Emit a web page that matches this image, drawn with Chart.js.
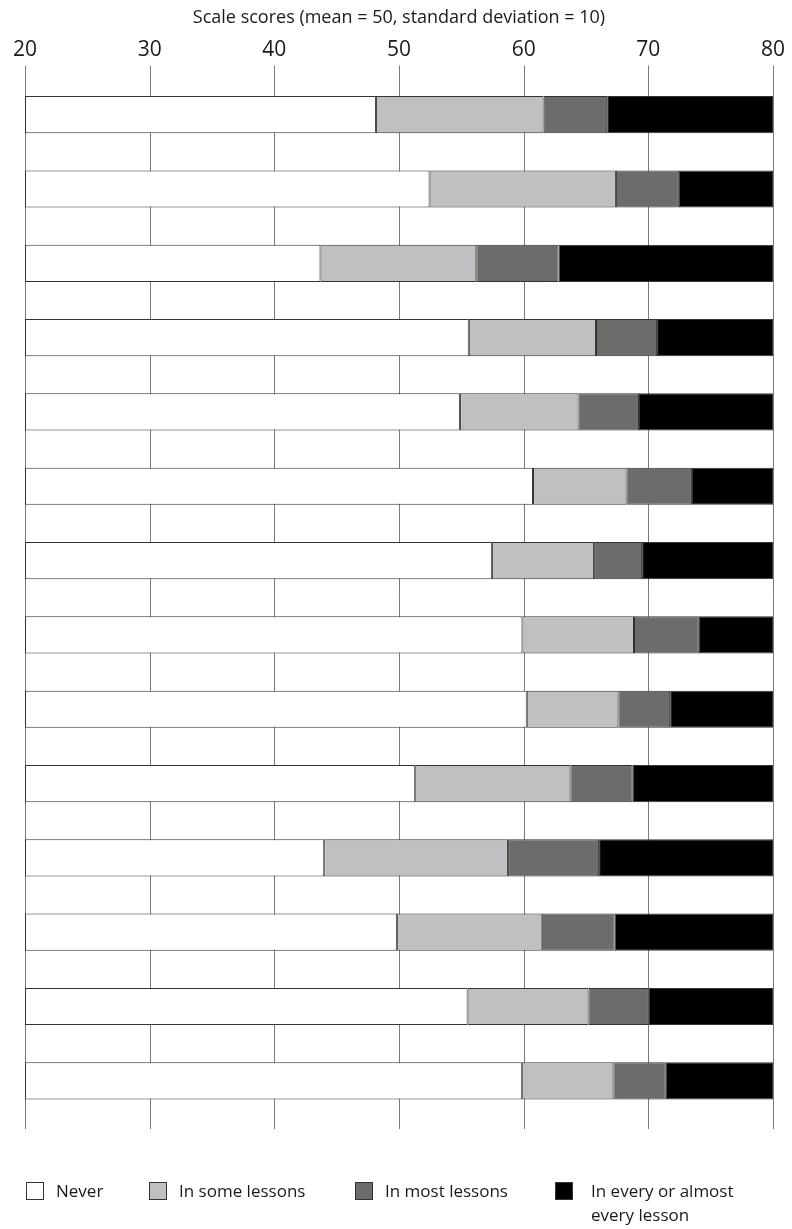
<!DOCTYPE html>
<html>
<head>
<meta charset="utf-8">
<script src="https://cdn.jsdelivr.net/npm/chart.js@4/dist/chart.umd.min.js"></script>
<style>
  html, body { margin: 0; padding: 0; background: #fff; }
  #wrap { position: relative; width: 792px; height: 1229px; }
  #chart { position: absolute; left: 0; top: 0; }
  .legend-item { position: absolute; top: 1182px; font-family: 'Open Sans', sans-serif; font-size: 17px; line-height: 24px; color: #1a1a1a; }
  .legend-box { position: absolute; top: 0; width: 18px; height: 18px; border: 1px solid #333; box-sizing: border-box; }
  .legend-text { position: absolute; top: -3px; white-space: nowrap; }
</style>
</head>
<body>
<div id="wrap">
  <canvas id="chart" width="792" height="1229"></canvas>
  <div id="legend"></div>
</div>
<script>
(function () {
  'use strict';

  // ── 資料 ──────────────────────────────────────────────
  const ITEMS = ['1', '2', '3', '4', '5', '6', '7', '8', '9', '10', '11', '12', '13', '14'];
  const SCALE_MIN = 20;
  const SCALE_MAX = 80;
  const X_TICKS = [20, 30, 40, 50, 60, 70, 80];

  // each band ends at these scale scores
  const neverEnd = [48.15, 52.45, 43.7, 55.6, 54.9, 60.75, 57.45, 59.9, 60.25, 51.3, 44.0, 49.85, 55.5, 59.85];
  const someEnd  = [61.6, 67.4, 56.2, 65.8, 64.4, 68.25, 65.65, 68.85, 67.6, 63.75, 58.75, 61.45, 65.2, 67.2];
  const mostEnd  = [66.7, 72.45, 62.8, 70.7, 69.25, 73.5, 69.5, 74.05, 71.75, 68.75, 66.05, 67.3, 70.0, 71.4];

  const SERIES = ['Never', 'In some lessons', 'In most lessons', 'In every or almost every lesson'];
  const LEGEND_TEXT = ['Never', 'In some lessons', 'In most lessons', 'In every or almost<br>every lesson'];
  const COLORS = ['#ffffff', '#bfc0c2', '#6b6d6b', '#000000'];
  const LEGEND_X = [26, 149, 355, 555];
  const AXIS_TITLE = 'Scale scores (mean = 50, standard deviation = 10)';

  // ── 區段 ──────────────────────────────────────────────
  const starts = [ITEMS.map(() => SCALE_MIN), neverEnd, someEnd, mostEnd];
  const ends = [neverEnd, someEnd, mostEnd, ITEMS.map(() => SCALE_MAX)];

  const datasets = SERIES.map((name, s) => ({
    label: name,
    data: ITEMS.map((_, i) => [starts[s][i], ends[s][i]]),
    backgroundColor: COLORS[s],
    borderColor: '#333333',
    borderWidth: 1,
    borderSkipped: false,
    grouped: false,
    barPercentage: 1,
    categoryPercentage: 0.5,
  }));

  // gridlines drawn behind bars, extending past the plot area
  const gridPlugin = {
    id: 'gridLines',
    beforeDatasetsDraw(chart) {
      const { ctx, chartArea, scales } = chart;
      ctx.save();
      ctx.strokeStyle = '#7a7a7a';
      ctx.lineWidth = 1;
      X_TICKS.forEach(v => {
        const x = Math.round(scales.x.getPixelForValue(v)) + 0.5;
        ctx.beginPath();
        ctx.moveTo(x, chartArea.top - 12);
        ctx.lineTo(x, chartArea.bottom + 11);
        ctx.stroke();
      });
      ctx.restore();
    },
  };

  new Chart(document.getElementById('chart'), {
    type: 'bar',
    data: { labels: ITEMS, datasets },
    plugins: [gridPlugin],
    options: {
      indexAxis: 'y',
      responsive: false,
      animation: false,
      layout: { padding: { left: 25, right: 19, top: 0, bottom: 111 } },
      plugins: { legend: { display: false }, tooltip: { enabled: false } },
      scales: {
        x: {
          position: 'top',
          min: SCALE_MIN,
          max: SCALE_MAX,
          afterBuildTicks(scale) { scale.ticks = X_TICKS.map(v => ({ value: v })); },
          afterFit(scale) {
            scale.height = 77.5;
            scale.paddingLeft = 0;
            scale.paddingRight = 0;
          },
          grid: { display: false, drawTicks: false },
          border: { display: false },
          ticks: {
            color: '#1a1a1a',
            padding: 15,
            maxRotation: 0,
            font: { family: "'Open Sans', sans-serif", size: 21 },
          },
          title: {
            display: true,
            text: AXIS_TITLE,
            color: '#1a1a1a',
            padding: { top: 7, bottom: 0 },
            font: { family: "'Open Sans', sans-serif", size: 18 },
          },
        },
        y: { display: false, offset: true },
      },
    },
  });

  // ── 圖例 ──────────────────────────────────────────────
  const legendEl = document.getElementById('legend');
  LEGEND_TEXT.forEach((t, i) => {
    const item = document.createElement('div');
    item.className = 'legend-item';
    item.style.left = LEGEND_X[i] + 'px';
    item.innerHTML = `<div class="legend-box" style="background:${COLORS[i]}"></div>` +
      `<div class="legend-text" style="left:${i === 3 ? 36 : 30}px">${t}</div>`;
    legendEl.appendChild(item);
  });
})();
</script>
</body>
</html>
